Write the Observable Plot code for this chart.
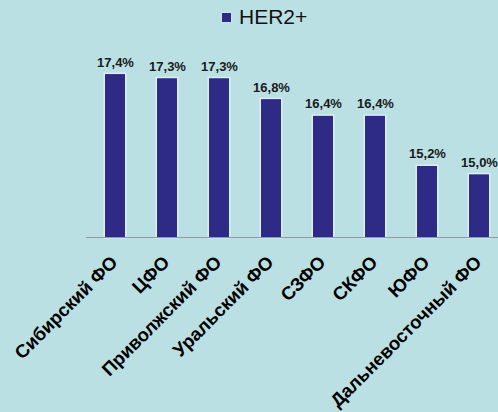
<!DOCTYPE html>
<html>
<head>
<meta charset="utf-8">
<script src="https://cdn.jsdelivr.net/npm/d3@7"></script>
<script src="https://cdn.jsdelivr.net/npm/@observablehq/plot@0.6"></script>
<style>
  html, body { margin: 0; padding: 0; background: #bae0e4; }
  #wrap { position: relative; width: 498px; height: 412px; overflow: hidden; background: #bae0e4; font-family: "Liberation Sans", Arial, sans-serif; }
  #legend { position: absolute; left: 222px; top: 5px; display: flex; align-items: center; font-size: 21px; color: #111; }
  #legend .sw { width: 9px; height: 9px; background: #2e2b87; margin-right: 8px; box-shadow: 0 0 2px #eef; }
  #chart { position: absolute; left: 0; top: 0; }
</style>
</head>
<body>
<div id="wrap">
  <div id="chart"></div>
  <div id="legend"><span class="sw"></span><span>HER2+</span></div>
</div>
<script>
const regions = ["Сибирский ФО", "ЦФО", "Приволжский ФО", "Уральский ФО", "СЗФО", "СКФО", "ЮФО", "Дальневосточный ФО"];
const values = [17.4, 17.3, 17.3, 16.8, 16.4, 16.4, 15.2, 15.0];
const seriesName = "HER2+";

const data = regions.map((r, i) => ({region: r, value: values[i]}));
const fmt = v => v.toFixed(1).replace(".", ",") + "%";
const base = 13.5;

const plot = Plot.plot({
  width: 498,
  height: 412,
  marginLeft: 86,
  marginRight: 0,
  marginTop: 49,
  marginBottom: 175,
  style: {background: "transparent", fontFamily: "'Liberation Sans', Arial, sans-serif", overflow: "visible"},
  x: {domain: regions, range: [86, 507], paddingInner: 0.62, paddingOuter: 0.31, axis: null},
  y: {domain: [base, 18], axis: null},
  marks: [
    Plot.barY(data, {x: "region", y1: base, y2: "value", fill: "none", stroke: "#eef3f6", strokeWidth: 3, strokeOpacity: 0.7}),
    Plot.barY(data, {x: "region", y1: base, y2: "value", fill: "#2e2b87"}),
    Plot.ruleY([base], {stroke: "#8c9b9e", strokeWidth: 1}),
    Plot.text(data, {x: "region", y: "value", text: d => fmt(d.value), lineAnchor: "bottom", dy: -8, fontWeight: "bold", fontSize: 13, fill: "#1a1a1a"}),
    Plot.text(data, {x: "region", y: base, text: "region", rotate: -45, textAnchor: "end", lineAnchor: "middle", dx: -1, dy: 22, fontWeight: "bold", fontSize: 18.5, fill: "#000"})
  ]
});
document.getElementById("chart").appendChild(plot);
</script>
</body>
</html>
